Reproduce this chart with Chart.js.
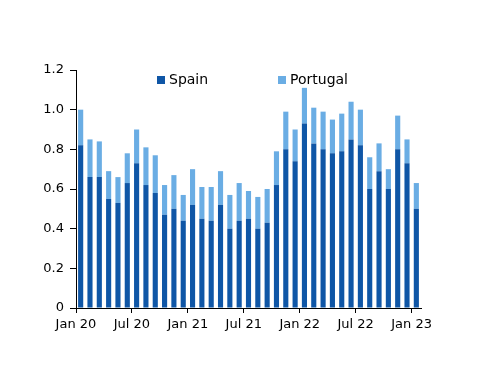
<!DOCTYPE html>
<html>
<head>
<meta charset="utf-8">
<script src="https://cdn.jsdelivr.net/npm/chart.js@4/dist/chart.umd.min.js"></script>
<style>
  body { margin: 0; background: #fff; }
  #wrap { width: 500px; height: 386px; }
</style>
</head>
<body>
<div id="wrap"><canvas id="chart" width="500" height="386"></canvas></div>
<script>
const months = [
  "Jan 20", "Feb 20", "Mar 20", "Apr 20", "May 20", "Jun 20",
  "Jul 20", "Aug 20", "Sep 20", "Oct 20", "Nov 20", "Dec 20",
  "Jan 21", "Feb 21", "Mar 21", "Apr 21", "May 21", "Jun 21",
  "Jul 21", "Aug 21", "Sep 21", "Oct 21", "Nov 21", "Dec 21",
  "Jan 22", "Feb 22", "Mar 22", "Apr 22", "May 22", "Jun 22",
  "Jul 22", "Aug 22", "Sep 22", "Oct 22", "Nov 22", "Dec 22",
  "Jan 23"
];

const spain = [
  0.82, 0.66, 0.66, 0.55, 0.53, 0.63, 0.73, 0.62, 0.58, 0.47, 0.50, 0.44,
  0.52, 0.45, 0.44, 0.52, 0.40, 0.44, 0.45, 0.40, 0.43, 0.62, 0.80, 0.74,
  0.93, 0.83, 0.80, 0.78, 0.79, 0.85, 0.82, 0.60, 0.69, 0.60, 0.80, 0.73,
  0.50
];

const portugal = [
  0.18, 0.19, 0.18, 0.14, 0.13, 0.15, 0.17, 0.19, 0.19, 0.15, 0.17, 0.13,
  0.18, 0.16, 0.17, 0.17, 0.17, 0.19, 0.14, 0.16, 0.17, 0.17, 0.19, 0.16,
  0.18, 0.18, 0.19, 0.17, 0.19, 0.19, 0.18, 0.16, 0.14, 0.10, 0.17, 0.12,
  0.13
];

const yTicks = [0, 0.2, 0.4, 0.6, 0.8, 1.0, 1.2];

const FONT = "'DejaVu Sans', sans-serif";

// legend drawn inside the plot, like the original
const innerLegend = {
  id: "innerLegend",
  afterDraw(chart) {
    const ctx = chart.ctx;
    const area = chart.chartArea;
    const spots = [81, 202];
    ctx.save();
    ctx.font = "14px " + FONT;
    ctx.textBaseline = "middle";
    chart.data.datasets.forEach((ds, i) => {
      const x = area.left + spots[i];
      const y = area.top + 10;
      ctx.fillStyle = ds.backgroundColor;
      ctx.fillRect(x, y - 4, 8, 8);
      ctx.fillStyle = "#000";
      ctx.fillText(ds.label, x + 12, y);
    });
    ctx.restore();
  }
};

new Chart(document.getElementById("chart"), {
  type: "bar",
  data: {
    labels: months,
    datasets: [
      { label: "Spain", data: spain, backgroundColor: "#0f56a6" },
      { label: "Portugal", data: portugal, backgroundColor: "#6aade4" }
    ]
  },
  options: {
    responsive: false,
    animation: false,
    layout: { padding: { left: 0, right: 79, top: 70, bottom: 48 } },
    datasets: { bar: { barPercentage: 0.55, categoryPercentage: 1 } },
    plugins: {
      legend: { display: false },
      tooltip: { enabled: false }
    },
    scales: {
      x: {
        stacked: true,
        afterFit: s => { s.height = 30; },
        border: { color: "#000", width: 1 },
        grid: {
          offset: true,
          drawOnChartArea: false,
          tickLength: 5,
          tickColor: c => (c.index !== undefined && c.index % 6 === 0) ? "#000" : "rgba(0,0,0,0)"
        },
        ticks: {
          autoSkip: false,
          maxRotation: 0,
          padding: 4,
          labelOffset: -4.7,
          color: "#000",
          font: { family: FONT, size: 13 },
          callback: function (v, i) { return i % 6 === 0 ? months[i] : ""; }
        }
      },
      y: {
        stacked: true,
        min: 0,
        max: 1.2,
        afterFit: s => { s.width = 76; },
        afterBuildTicks: s => { s.ticks = yTicks.map(v => ({ value: v })); },
        border: { color: "#000", width: 1 },
        grid: { drawOnChartArea: false, tickLength: 6, tickColor: "#000" },
        ticks: {
          padding: 6,
          color: "#000",
          font: { family: FONT, size: 13 },
          callback: v => v === 0 ? "0" : v.toFixed(1)
        }
      }
    }
  },
  plugins: [innerLegend]
});
</script>
</body>
</html>
